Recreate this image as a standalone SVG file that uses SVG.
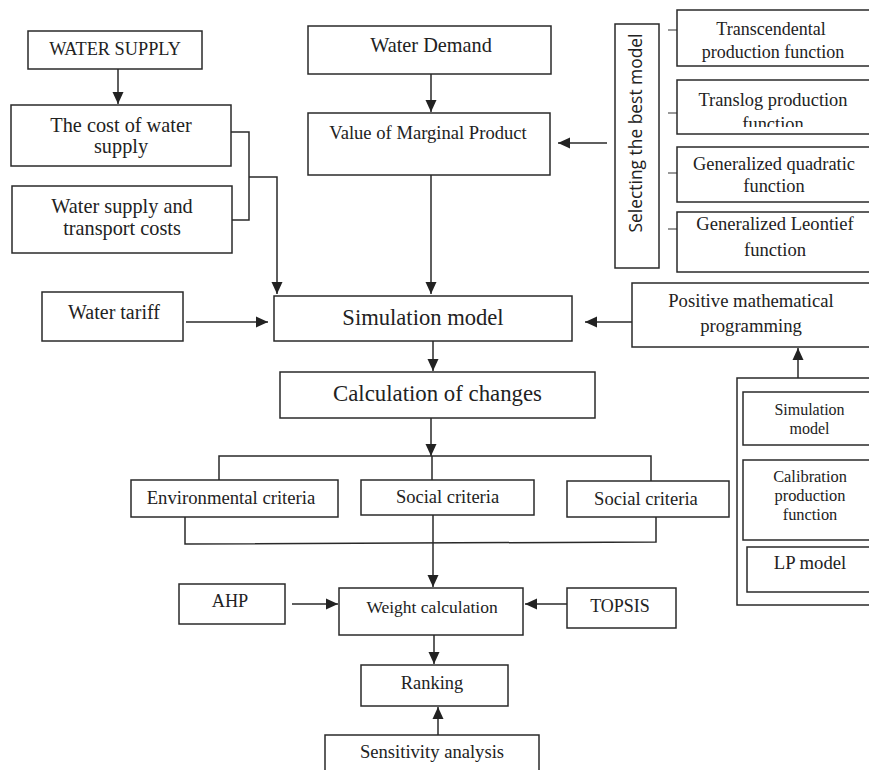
<svg xmlns="http://www.w3.org/2000/svg" width="869" height="770" viewBox="0 0 869 770">
<style>
rect.b{fill:#fff;stroke:#2a2a2a;stroke-width:1.5}
text{font-family:"Liberation Serif","Times New Roman",serif;fill:#222;text-anchor:middle}
.s{font-family:"Open Sans","Noto Sans",sans-serif}
.c{fill:none;stroke:#2a2a2a;stroke-width:1.5}
.tick{fill:none;stroke:#555;stroke-width:1.2}
</style>
<defs>
<marker id="ah" viewBox="0 0 12 12" refX="12" refY="6" markerWidth="12" markerHeight="12" orient="auto" markerUnits="userSpaceOnUse"><path d="M0,0.5 L12,6 L0,11.5 z" fill="#222"/></marker>
<clipPath id="clipTranslog"><rect x="677" y="80" width="200" height="47"/></clipPath>
</defs>
<rect width="869" height="770" fill="#fff"/>

<g id="connectors">
<line class="c" x1="118" y1="69" x2="118" y2="104" marker-end="url(#ah)"/>
<polyline class="c" points="231,132 249,132 249,220 232,220"/>
<polyline class="c" points="249,177 277,177 277,294" marker-end="url(#ah)"/>
<line class="c" x1="431" y1="74" x2="431" y2="112" marker-end="url(#ah)"/>
<line class="c" x1="431" y1="167" x2="431" y2="294" marker-end="url(#ah)"/>
<line class="c" x1="607" y1="143" x2="558" y2="143" marker-end="url(#ah)"/>
<line class="tick" x1="668" y1="30" x2="677" y2="30"/>
<line class="tick" x1="668" y1="113" x2="677" y2="113"/>
<line class="tick" x1="668" y1="173" x2="677" y2="173"/>
<line class="tick" x1="668" y1="229" x2="677" y2="229"/>
<line class="c" x1="186" y1="322" x2="268" y2="322" marker-end="url(#ah)"/>
<line class="c" x1="632" y1="322" x2="585" y2="322" marker-end="url(#ah)"/>
<line class="c" x1="798" y1="378" x2="798" y2="348" marker-end="url(#ah)"/>
<line class="c" x1="433" y1="341" x2="433" y2="371" marker-end="url(#ah)"/>
<line class="c" x1="431" y1="418" x2="431" y2="456" marker-end="url(#ah)"/>
<polyline class="c" points="219,480 219,456 651,456 651,481"/>
<line class="c" x1="432" y1="456" x2="432" y2="480"/>
<polyline class="c" points="185,517 185,544 656,542 656,517"/>
<line class="c" x1="433" y1="512" x2="433" y2="587" marker-end="url(#ah)"/>
<line class="c" x1="292" y1="604" x2="338" y2="604" marker-end="url(#ah)"/>
<line class="c" x1="567" y1="604" x2="525" y2="604" marker-end="url(#ah)"/>
<line class="c" x1="434" y1="635" x2="434" y2="664" marker-end="url(#ah)"/>
<line class="c" x1="438" y1="735" x2="438" y2="707" marker-end="url(#ah)"/>
</g>

<g id="water_supply"><rect class="b" x="28" y="31" width="174" height="38"/><text x="115" y="55" font-size="18.3">WATER SUPPLY</text></g>
<g id="cost_water_supply"><rect class="b" x="11" y="105" width="220" height="61"/><text x="121" y="132" font-size="20.3">The cost of water</text><text x="121" y="153" font-size="20.3">supply</text></g>
<g id="transport_costs"><rect class="b" x="12" y="186" width="220" height="67"/><text x="122" y="213" font-size="20.3">Water supply and</text><text x="122" y="235" font-size="20.3">transport costs</text></g>
<g id="water_demand"><rect class="b" x="308" y="26" width="243" height="48"/><text x="431" y="52" font-size="20.3">Water Demand</text></g>
<g id="vmp"><rect class="b" x="308" y="113" width="242" height="62"/><text x="428" y="139" font-size="18.6">Value of Marginal Product</text></g>
<g id="selecting"><rect class="b" x="615" y="24" width="44" height="244"/><text class="s" transform="translate(642,133) rotate(-90)" font-size="17.4">Selecting the best model</text></g>
<g id="transcendental"><rect class="b" x="677" y="10" width="200" height="56"/><text x="771" y="35" font-size="18">Transcendental</text><text x="773" y="58" font-size="18">production function</text></g>
<g id="translog"><rect class="b" x="677" y="80" width="200" height="54"/><text x="773" y="106" font-size="18.4">Translog production</text><text x="773" y="130" font-size="18.4" clip-path="url(#clipTranslog)">function</text></g>
<g id="quadratic"><rect class="b" x="677" y="147" width="200" height="55"/><text x="774" y="170" font-size="18.4">Generalized quadratic</text><text x="774" y="192" font-size="18.4">function</text></g>
<g id="leontief"><rect class="b" x="677" y="212" width="200" height="60"/><text x="775" y="230" font-size="18.6">Generalized Leontief</text><text x="775" y="256" font-size="18.6">function</text></g>
<g id="water_tariff"><rect class="b" x="42" y="292" width="141" height="49"/><text x="114" y="319" font-size="20">Water tariff</text></g>
<g id="simulation_model"><rect class="b" x="274" y="296" width="298" height="45"/><text x="423" y="325" font-size="22.6">Simulation model</text></g>
<g id="pmp"><rect class="b" x="632" y="283" width="245" height="64"/><text x="751" y="307" font-size="18.7">Positive mathematical</text><text x="751" y="332" font-size="18.7">programming</text></g>
<g id="calculation"><rect class="b" x="280" y="372" width="315" height="46"/><text x="437.5" y="401" font-size="22.8">Calculation of changes</text></g>
<g id="pmp_components"><rect class="b" x="737" y="378" width="140" height="227"/></g>
<g id="inner_simulation"><rect class="b" x="743" y="392" width="134" height="53"/><text x="809.5" y="415" font-size="16">Simulation</text><text x="809.5" y="434" font-size="16">model</text></g>
<g id="calibration"><rect class="b" x="743" y="460" width="134" height="80"/><text x="810" y="482" font-size="16.4">Calibration</text><text x="810" y="501" font-size="16.4">production</text><text x="810" y="520" font-size="16.4">function</text></g>
<g id="lp_model"><rect class="b" x="747" y="547" width="130" height="45"/><text x="810" y="569" font-size="18.7">LP model</text></g>
<g id="environmental"><rect class="b" x="131" y="480" width="207" height="37"/><text x="231" y="504" font-size="18.7">Environmental criteria</text></g>
<g id="social_1"><rect class="b" x="361" y="480" width="173" height="35"/><text x="447.5" y="503" font-size="18.5">Social criteria</text></g>
<g id="social_2"><rect class="b" x="567" y="481" width="162" height="36"/><text x="646" y="505" font-size="18.6">Social criteria</text></g>
<g id="ahp"><rect class="b" x="179" y="584" width="106" height="40"/><text x="230" y="607" font-size="18.3">AHP</text></g>
<g id="weight"><rect class="b" x="339" y="588" width="184" height="47"/><text x="432" y="613" font-size="17.5">Weight calculation</text></g>
<g id="topsis"><rect class="b" x="567" y="588" width="109" height="40"/><text x="620" y="612" font-size="18">TOPSIS</text></g>
<g id="ranking"><rect class="b" x="361" y="665" width="147" height="41"/><text x="432" y="689" font-size="18.4">Ranking</text></g>
<g id="sensitivity"><rect class="b" x="325" y="735" width="214" height="45"/><text x="432" y="758" font-size="18.6">Sensitivity analysis</text></g>
</svg>
